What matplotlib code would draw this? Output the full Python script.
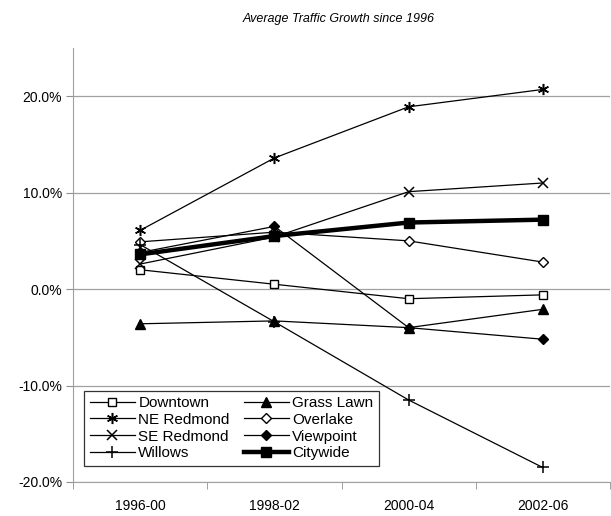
import matplotlib
matplotlib.use('Agg')
from matplotlib import pyplot as plt
from matplotlib.ticker import FixedLocator, FuncFormatter

plt.rcParams['font.family'] = ['Liberation Sans Narrow', 'Liberation Sans', 'DejaVu Sans']

periods = ['1996-00', '1998-02', '2000-04', '2002-06']

downtown = [2.0, 0.5, -1.0, -0.6]
grass_lawn = [-3.6, -3.3, -4.0, -2.1]
ne_redmond = [6.1, 13.6, 18.9, 20.7]
overlake = [4.9, 5.9, 5.0, 2.8]
se_redmond = [2.6, 5.4, 10.1, 11.0]
viewpoint = [3.8, 6.5, -4.0, -5.2]
willows = [4.6, -3.4, -11.5, -18.5]
citywide = [3.6, 5.5, 6.9, 7.2]

series = [
    ('Downtown', downtown, dict(marker='s', mfc='white', ms=6)),
    ('Grass Lawn', grass_lawn, dict(marker='^', mfc='black', ms=7)),
    ('NE Redmond', ne_redmond, dict(marker=(6, 2, 0), ms=8, mew=1.1)),
    ('Overlake', overlake, dict(marker='D', mfc='white', ms=5.5)),
    ('SE Redmond', se_redmond, dict(marker='x', ms=7, mew=1.1)),
    ('Viewpoint', viewpoint, dict(marker='D', mfc='black', ms=5.5)),
    ('Willows', willows, dict(marker='+', ms=8, mew=1.1)),
    ('Citywide', citywide, dict(marker='s', mfc='black', ms=7, lw=3.2)),
]

fig = plt.figure(figsize=(6.11, 5.16), dpi=100)
ax = fig.add_axes([0.12, 0.066, 0.878, 0.841])

x = range(len(periods))
lines = {}
for name, vals, style in series:
    kw = dict(color='black', mec='black', lw=0.9)
    kw.update(style)
    lines[name] = ax.plot(x, vals, label=name, **kw)[0]

ax.set_xlim(-0.5, 3.5)
ax.set_ylim(-20, 25)
ax.yaxis.set_major_locator(FixedLocator([-20, -10, 0, 10, 20]))
ax.yaxis.set_major_formatter(FuncFormatter(lambda v, p: '%.1f%%' % v))
ax.grid(axis='y', color='#a0a0a0', lw=0.9)
ax.set_axisbelow(True)

ax.set_xticks(list(x))
ax.set_xticklabels(periods)
ax.set_xticks([-0.5, 0.5, 1.5, 2.5, 3.5], minor=True)
ax.tick_params(axis='x', which='major', length=0, pad=12, labelsize=10)
ax.tick_params(axis='x', which='minor', length=5, color='#909090', direction='out')
ax.tick_params(axis='y', length=5, color='#909090', labelsize=10, pad=3)

for s in ['top', 'right']:
    ax.spines[s].set_visible(False)
ax.spines['left'].set_color('#a0a0a0')
ax.spines['bottom'].set_color('#a0a0a0')

fig.text(0.555, 0.963, 'Average Traffic Growth since 1996', ha='center', va='center',
         fontsize=9, style='italic')

# legend reads row by row in the original, so list it column-major
order = ['Downtown', 'NE Redmond', 'SE Redmond', 'Willows',
         'Grass Lawn', 'Overlake', 'Viewpoint', 'Citywide']
leg = ax.legend([lines[n] for n in order], order, ncol=2, loc='lower left',
                bbox_to_anchor=(0.006, 0.02), fontsize=11,
                frameon=True, fancybox=False, edgecolor='black', handlelength=3.0,
                handletextpad=0.2, labelspacing=0.18, columnspacing=0.9,
                borderpad=0.35, markerscale=1.0)
leg.get_frame().set_linewidth(0.9)

plt.savefig('out.png', dpi=100)
